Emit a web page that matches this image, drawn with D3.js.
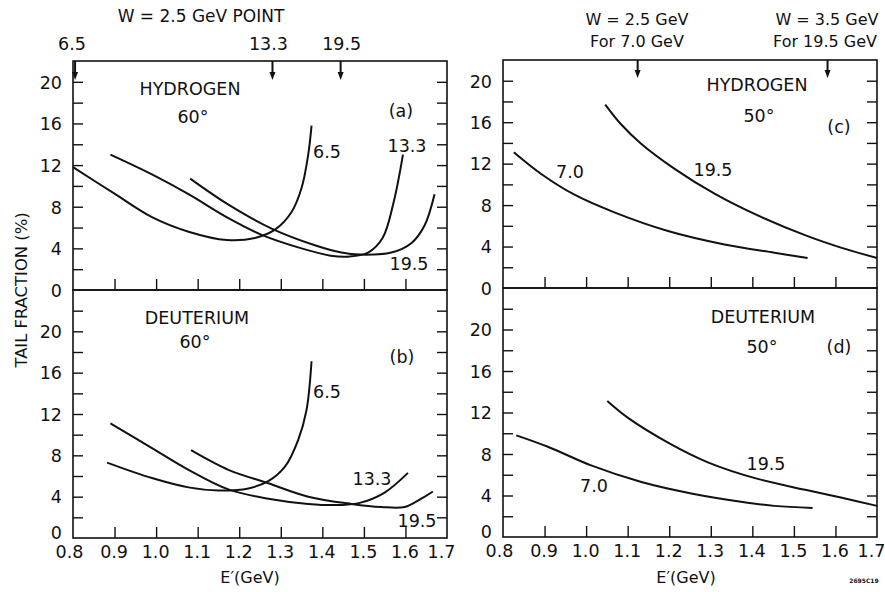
<!DOCTYPE html>
<html>
<head>
<meta charset="utf-8">
<script src="https://cdn.jsdelivr.net/npm/d3@7"></script>
<style>
  html, body { margin: 0; padding: 0; background: #fff; }
  svg { display: block; }
  text { font-family: "DejaVu Sans", "Liberation Sans", sans-serif; fill: #111; }
</style>
</head>
<body>
<svg id="chart" width="885" height="592"></svg>
<script>
// E' axis ticks (GeV) and tail-fraction ticks (%)
const eTicks = [0.8, 0.9, 1.0, 1.1, 1.2, 1.3, 1.4, 1.5, 1.6, 1.7];
const eTickLabels = ["0.8", "0.9", "1.0", "1.1", "1.2", "1.3", "1.4", "1.5", "1.6", "1.7"];
const fracTicks = [0, 4, 8, 12, 16, 20];

// Tail fraction (%) vs E' (GeV): hydrogen, 60 degrees
const h60_6_5 = [[0.80, 11.8], [0.898, 9.3], [0.99, 7.0], [1.078, 5.6], [1.17, 4.8], [1.238, 5.0], [1.286, 5.8], [1.326, 7.5], [1.35, 9.8], [1.366, 13.0], [1.374, 15.8]];
const h60_13_3 = [[0.89, 13.0], [0.99, 11.1], [1.078, 9.2], [1.174, 6.9], [1.254, 5.3], [1.35, 4.0], [1.42, 3.3], [1.46, 3.2], [1.51, 3.6], [1.545, 5.0], [1.572, 8.5], [1.594, 13.0]];
const h60_19_5 = [[1.082, 10.7], [1.174, 8.2], [1.278, 5.9], [1.382, 4.3], [1.446, 3.6], [1.49, 3.4], [1.566, 3.6], [1.614, 4.5], [1.646, 6.2], [1.67, 9.2]];

// Deuterium, 60 degrees
const d60_6_5 = [[0.882, 7.3], [0.99, 5.8], [1.078, 4.9], [1.15, 4.6], [1.222, 4.8], [1.27, 5.5], [1.31, 6.9], [1.342, 9.5], [1.362, 12.4], [1.374, 17.1]];
const d60_13_3 = [[0.89, 11.1], [0.982, 8.9], [1.078, 6.6], [1.174, 4.7], [1.27, 3.8], [1.366, 3.3], [1.446, 3.2], [1.49, 3.4], [1.55, 4.4], [1.606, 6.3]];
const d60_19_5 = [[1.084, 8.5], [1.174, 6.6], [1.27, 5.3], [1.366, 4.0], [1.47, 3.3], [1.542, 3.0], [1.598, 3.0], [1.638, 3.8], [1.666, 4.5]];

// Hydrogen, 50 degrees
const h50_7_0 = [[0.826, 13.1], [0.892, 11.0], [0.972, 9.0], [1.068, 7.3], [1.197, 5.5], [1.333, 4.2], [1.453, 3.4], [1.533, 2.9]];
const h50_19_5 = [[1.046, 17.7], [1.084, 15.8], [1.133, 13.9], [1.213, 11.5], [1.309, 9.1], [1.413, 7.0], [1.533, 5.0], [1.613, 3.9], [1.70, 2.9]];

// Deuterium, 50 degrees
const d50_7_0 = [[0.832, 9.8], [0.908, 8.7], [1.012, 6.9], [1.133, 5.3], [1.253, 4.2], [1.373, 3.4], [1.453, 3.0], [1.545, 2.8]];
const d50_19_5 = [[1.051, 13.1], [1.10, 11.5], [1.197, 9.1], [1.293, 7.2], [1.413, 5.6], [1.533, 4.5], [1.613, 3.8], [1.70, 3.0]];

// Markers along the top edge: E' where W reaches the quoted value
const arrowsLeft = [0.805, 1.28, 1.444];
const arrowsLeftLabels = ["6.5", "13.3", "19.5"];
const arrowsRight = [1.124, 1.581];

const svg = d3.select("#chart");
const FS = 17.5;
const FONT = '"DejaVu Sans", "Liberation Sans", sans-serif';

function panel(cfg) {
  const x = d3.scaleLinear().domain([0.8, 1.7]).range([cfg.x0, cfg.x1]);
  const y = d3.scaleLinear().domain([0, cfg.ymax]).range([cfg.y1, cfg.y0]);
  const g = svg.append("g");

  // ticks every 2 %, inward on both sides
  const allTicks = d3.range(2, cfg.ymax, 2);
  g.append("g").attr("transform", `translate(${cfg.x0},0)`)
    .call(d3.axisRight(y).tickValues(allTicks).tickSize(10).tickFormat(""))
    .call(a => a.select(".domain").remove())
    .call(a => a.selectAll("line").attr("stroke", "#111").attr("stroke-width", 1.4));
  g.append("g").attr("transform", `translate(${cfg.x1},0)`)
    .call(d3.axisLeft(y).tickValues(allTicks).tickSize(10).tickFormat(""))
    .call(a => a.select(".domain").remove())
    .call(a => a.selectAll("line").attr("stroke", "#111").attr("stroke-width", 1.4));

  // E' ticks pointing up from the zero line
  g.append("g").attr("transform", `translate(0,${cfg.y1})`)
    .call(d3.axisTop(x).tickValues(eTicks.slice(1, -1)).tickSize(11).tickFormat(""))
    .call(a => a.select(".domain").remove())
    .call(a => a.selectAll("line").attr("stroke", "#111").attr("stroke-width", 1.4));

  // value labels at the left; the bottom panel's zero sits a little higher
  g.append("g").attr("transform", `translate(${cfg.x0 - 11},0)`)
    .call(d3.axisLeft(y).tickValues(fracTicks).tickSize(0).tickPadding(0))
    .call(a => a.select(".domain").remove())
    .call(a => a.selectAll("text").style("font-size", FS + "px")
      .style("font-family", FONT).attr("fill", "#111")
      .attr("dy", d => (d === 0 && cfg.bottomLabels) ? "0.05em" : "0.36em"));

  // frame
  g.append("rect").attr("x", cfg.x0).attr("y", cfg.y0)
    .attr("width", cfg.x1 - cfg.x0).attr("height", cfg.y1 - cfg.y0)
    .attr("fill", "none").attr("stroke", "#111").attr("stroke-width", 1.6);

  const line = d3.line().x(d => x(d[0])).y(d => y(d[1])).curve(d3.curveCatmullRom.alpha(0.5));
  cfg.series.forEach(s => {
    g.append("path").datum(s).attr("d", line)
      .attr("fill", "none").attr("stroke", "#111").attr("stroke-width", 2);
  });

  cfg.texts.forEach(t => {
    g.append("text").attr("x", t[0]).attr("y", t[1]).attr("text-anchor", "middle")
      .style("font-size", FS + "px").text(t[2]);
  });

  if (cfg.bottomLabels) {
    g.append("g").attr("transform", `translate(0,${cfg.y1})`)
      .call(d3.axisBottom(x).tickValues(eTicks).tickSize(0).tickPadding(8)
        .tickFormat((d, i) => eTickLabels[i]))
      .call(a => a.select(".domain").remove())
      .call(a => a.selectAll("text").style("font-size", FS + "px")
        .style("font-family", FONT).attr("fill", "#111")
        .attr("dx", (d, i) => i === 0 ? -4 : (i === eTicks.length - 1 ? -6 : -1)));
  }
  return { x, y };
}

function arrow(xp, ytop, len) {
  svg.append("line").attr("x1", xp).attr("x2", xp).attr("y1", ytop).attr("y2", ytop + len - 6)
    .attr("stroke", "#111").attr("stroke-width", 2);
  svg.append("path")
    .attr("d", `M${xp - 3},${ytop + len - 8} L${xp + 3},${ytop + len - 8} L${xp},${ytop + len} Z`)
    .attr("fill", "#111");
}

// (a) hydrogen 60°
const pa = panel({
  x0: 73, x1: 447, y0: 61, y1: 290, ymax: 22,
  series: [h60_6_5, h60_13_3, h60_19_5],
  texts: [[190, 95, "HYDROGEN"], [193, 123, "60°"], [401, 117, "(a)"],
          [327, 158, "6.5"], [407, 152, "13.3"], [409, 270, "19.5"]]
});
// (b) deuterium 60°
panel({
  x0: 73, x1: 447, y0: 290, y1: 538, ymax: 24, bottomLabels: true,
  series: [d60_6_5, d60_13_3, d60_19_5],
  texts: [[197, 324, "DEUTERIUM"], [195, 348, "60°"], [402, 363, "(b)"],
          [327, 398, "6.5"], [372, 485, "13.3"], [417, 527, "19.5"]]
});
// (c) hydrogen 50°
const pc = panel({
  x0: 503, x1: 877, y0: 60, y1: 288, ymax: 22,
  series: [h50_7_0, h50_19_5],
  texts: [[757, 91, "HYDROGEN"], [759, 122, "50°"], [839, 133, "(c)"],
          [570, 178, "7.0"], [713, 176, "19.5"]]
});
// (d) deuterium 50°
panel({
  x0: 503, x1: 877, y0: 288, y1: 537, ymax: 24, bottomLabels: true,
  series: [d50_7_0, d50_19_5],
  texts: [[763, 323, "DEUTERIUM"], [762, 353, "50°"], [839, 353, "(d)"],
          [766, 470, "19.5"], [594, 492, "7.0"]]
});

// top markers, left
arrowsLeft.forEach((e, i) => {
  arrow(pa.x(e), 61, 19);
  svg.append("text").attr("x", i === 0 ? 72 : pa.x(e) - (i === 1 ? 4 : -1)).attr("y", 50)
    .attr("text-anchor", "middle").style("font-size", FS + "px").text(arrowsLeftLabels[i]);
});
svg.append("text").attr("x", 201).attr("y", 22).attr("text-anchor", "middle")
  .style("font-size", "17px").text("W = 2.5 GeV POINT");

// top markers, right
arrowsRight.forEach(e => arrow(pc.x(e), 60, 18));
[[637, 25, "W = 2.5 GeV"], [637, 47, "For 7.0 GeV"], [827, 25, "W = 3.5 GeV"], [825, 47, "For 19.5 GeV"]]
  .forEach(t => svg.append("text").attr("x", t[0]).attr("y", t[1]).attr("text-anchor", "middle")
    .style("font-size", "16px").text(t[2]));

// axis titles
svg.append("text").attr("transform", "translate(27,290) rotate(-90)").attr("text-anchor", "middle")
  .style("font-size", "16.4px").text("TAIL FRACTION (%)");
svg.append("text").attr("x", 250).attr("y", 583).attr("text-anchor", "middle")
  .style("font-size", "16px").text("E′(GeV)");
svg.append("text").attr("x", 686).attr("y", 583).attr("text-anchor", "middle")
  .style("font-size", "16px").text("E′(GeV)");
svg.append("text").attr("x", 864).attr("y", 583).attr("text-anchor", "middle")
  .style("font-size", "6px").style("font-weight", "bold").text("2695C19");
</script>
</body>
</html>
